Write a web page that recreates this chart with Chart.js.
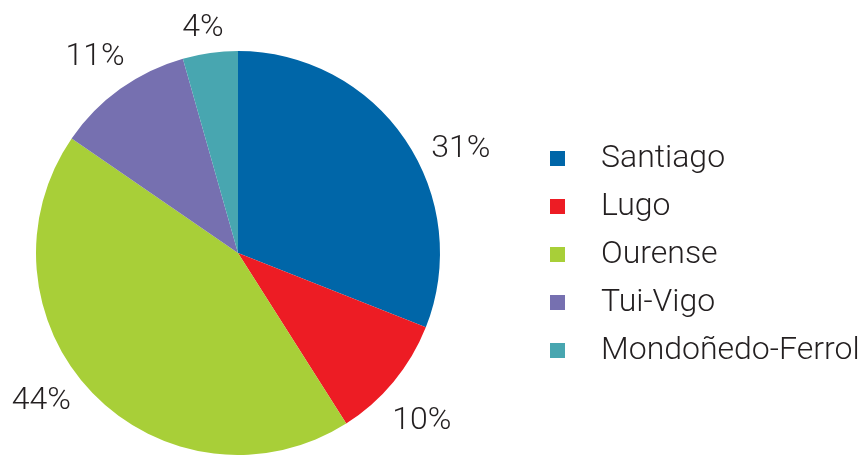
<!DOCTYPE html>
<html>
<head>
<meta charset="utf-8">
<script src="https://cdn.jsdelivr.net/npm/chart.js@4"></script>
<style>
html,body{margin:0;padding:0;background:#fff;}
#wrap{width:861px;height:455px;position:relative;}
</style>
</head>
<body>
<div id="wrap"><canvas id="c" width="861" height="455"></canvas></div>
<script>
const categories = ["Santiago", "Lugo", "Ourense", "Tui-Vigo", "Mondoñedo-Ferrol"];
const values = [31, 10, 43.6, 11, 4.4];
const percentLabels = ["31%", "10%", "44%", "11%", "4%"];
const colors = ["#0066a8", "#ed1c24", "#a8cf38", "#7670b0", "#48a6b0"];
const labelAngleNudge = [9.1, 2.8, 7.0, -0.4, -0.9];
const labelGap = [44, 47, 44, 41, 26];

const FONT = "300 32px Roboto, 'Liberation Sans', sans-serif";
const TEXT = "#231f20";

const outsideLabels = {
  id: 'outsideLabels',
  afterDatasetsDraw(chart) {
    const ctx = chart.ctx;
    const meta = chart.getDatasetMeta(0);
    ctx.save();
    ctx.font = FONT;
    ctx.fillStyle = TEXT;
    ctx.textAlign = 'center';
    ctx.textBaseline = 'middle';
    meta.data.forEach((arc, i) => {
      const p = arc.getProps(['x','y','startAngle','endAngle','outerRadius'], true);
      const mid = (p.startAngle + p.endAngle) / 2 + labelAngleNudge[i] * Math.PI / 180;
      const r = p.outerRadius + labelGap[i];
      ctx.fillText(percentLabels[i], p.x + Math.cos(mid) * r, p.y + Math.sin(mid) * r);
    });
    ctx.restore();
  }
};

const sideLegend = {
  id: 'sideLegend',
  afterDraw(chart) {
    const ctx = chart.ctx;
    ctx.save();
    ctx.font = FONT;
    ctx.textBaseline = 'middle';
    ctx.textAlign = 'left';
    const x0 = 550, y0 = 158.5, step = 48;
    chart.data.labels.forEach((lab, i) => {
      const y = y0 + i * step;
      ctx.fillStyle = chart.data.datasets[0].backgroundColor[i];
      ctx.fillRect(x0, y - 7.5, 15, 15);
      ctx.fillStyle = TEXT;
      ctx.fillText(lab, 601, y);
    });
    ctx.restore();
  }
};

new Chart(document.getElementById('c'), {
  type: 'pie',
  data: {
    labels: categories,
    datasets: [{
      data: values,
      backgroundColor: colors,
      borderWidth: 0
    }]
  },
  options: {
    responsive: false,
    animation: false,
    layout: { padding: { top: 51, bottom: 0, left: 36, right: 421 } },
    plugins: {
      legend: { display: false },
      tooltip: { enabled: false }
    }
  },
  plugins: [outsideLabels, sideLegend]
});
</script>
</body>
</html>
